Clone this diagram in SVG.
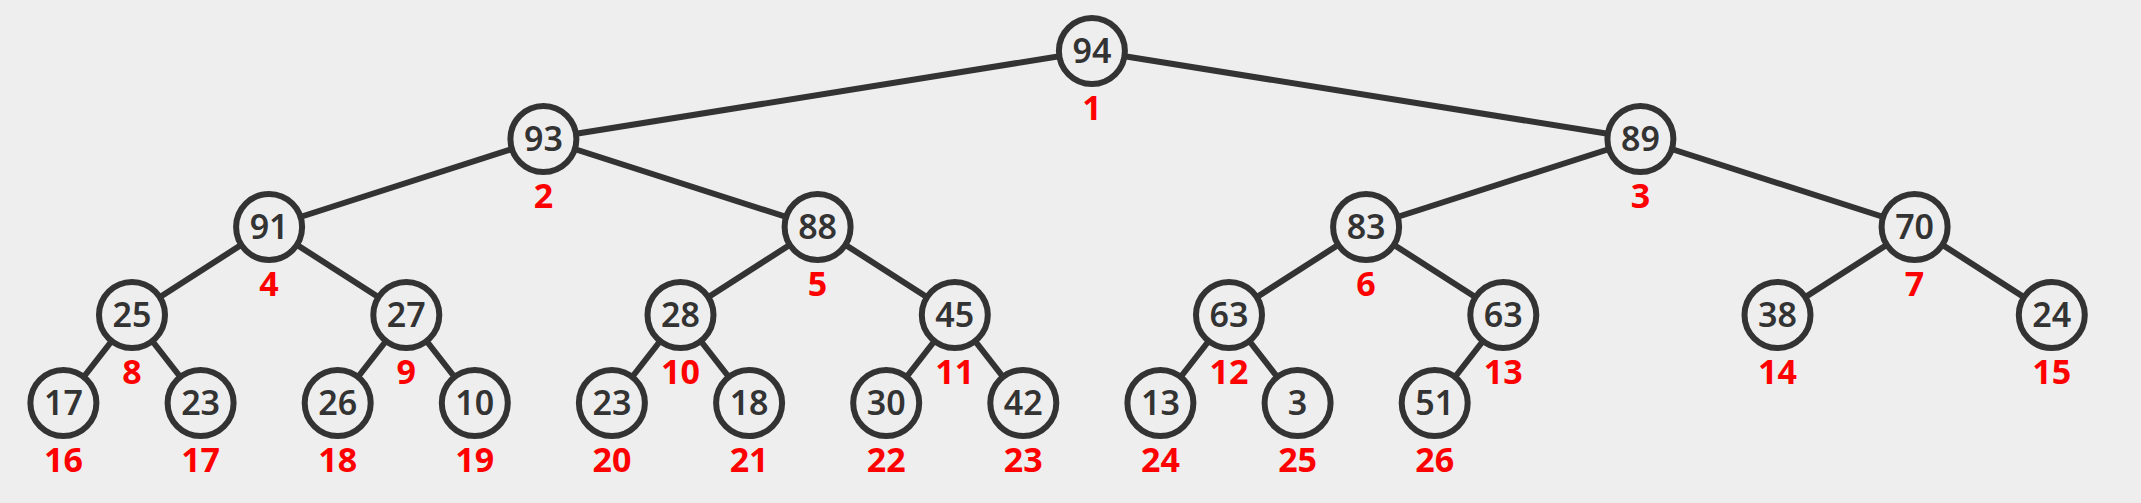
<svg xmlns="http://www.w3.org/2000/svg" width="2141" height="503" viewBox="0 0 2141 503">
<style>
.bg{fill:#eeeeee}
.edge{stroke:#333333;stroke-width:6;fill:none}
.node circle{fill:#eeeeee;stroke:#333333;stroke-width:6}
.val{font-family:"Noto Sans","DejaVu Sans",sans-serif;font-size:34px;font-weight:600;fill:#333333;text-anchor:middle}
.idx{font-family:"Noto Sans","DejaVu Sans",sans-serif;font-size:34px;font-weight:700;fill:#ff0000;text-anchor:middle}
</style>
<rect class="bg" x="0" y="0" width="2141" height="503"/>
<g id="connectors">
<line class="edge" x1="1091.9" y1="51" x2="543.4" y2="139"/>
<line class="edge" x1="1091.9" y1="51" x2="1640.4" y2="139"/>
<line class="edge" x1="543.4" y1="139" x2="269.1" y2="227"/>
<line class="edge" x1="543.4" y1="139" x2="817.6" y2="227"/>
<line class="edge" x1="1640.4" y1="139" x2="1366.1" y2="227"/>
<line class="edge" x1="1640.4" y1="139" x2="1914.6" y2="227"/>
<line class="edge" x1="269.1" y1="227" x2="132" y2="315"/>
<line class="edge" x1="269.1" y1="227" x2="406.3" y2="315"/>
<line class="edge" x1="817.6" y1="227" x2="680.5" y2="315"/>
<line class="edge" x1="817.6" y1="227" x2="954.8" y2="315"/>
<line class="edge" x1="1366.1" y1="227" x2="1229" y2="315"/>
<line class="edge" x1="1366.1" y1="227" x2="1503.3" y2="315"/>
<line class="edge" x1="1914.6" y1="227" x2="1777.5" y2="315"/>
<line class="edge" x1="1914.6" y1="227" x2="2051.8" y2="315"/>
<line class="edge" x1="132" y1="315" x2="63.4" y2="403"/>
<line class="edge" x1="132" y1="315" x2="200.6" y2="403"/>
<line class="edge" x1="406.3" y1="315" x2="337.7" y2="403"/>
<line class="edge" x1="406.3" y1="315" x2="474.8" y2="403"/>
<line class="edge" x1="680.5" y1="315" x2="611.9" y2="403"/>
<line class="edge" x1="680.5" y1="315" x2="749.1" y2="403"/>
<line class="edge" x1="954.8" y1="315" x2="886.2" y2="403"/>
<line class="edge" x1="954.8" y1="315" x2="1023.3" y2="403"/>
<line class="edge" x1="1229" y1="315" x2="1160.4" y2="403"/>
<line class="edge" x1="1229" y1="315" x2="1297.6" y2="403"/>
<line class="edge" x1="1503.3" y1="315" x2="1434.7" y2="403"/>
</g>
<g id="n1" class="node"><circle cx="1091.9" cy="51" r="33"/><text class="val" x="1091.9" y="63">94</text><text class="idx" x="1091.9" y="119.5">1</text></g>
<g id="n2" class="node"><circle cx="543.4" cy="139" r="33"/><text class="val" x="543.4" y="151">93</text><text class="idx" x="543.4" y="207.5">2</text></g>
<g id="n3" class="node"><circle cx="1640.4" cy="139" r="33"/><text class="val" x="1640.4" y="151">89</text><text class="idx" x="1640.4" y="207.5">3</text></g>
<g id="n4" class="node"><circle cx="269.1" cy="227" r="33"/><text class="val" x="269.1" y="239">91</text><text class="idx" x="269.1" y="295.5">4</text></g>
<g id="n5" class="node"><circle cx="817.6" cy="227" r="33"/><text class="val" x="817.6" y="239">88</text><text class="idx" x="817.6" y="295.5">5</text></g>
<g id="n6" class="node"><circle cx="1366.1" cy="227" r="33"/><text class="val" x="1366.1" y="239">83</text><text class="idx" x="1366.1" y="295.5">6</text></g>
<g id="n7" class="node"><circle cx="1914.6" cy="227" r="33"/><text class="val" x="1914.6" y="239">70</text><text class="idx" x="1914.6" y="295.5">7</text></g>
<g id="n8" class="node"><circle cx="132" cy="315" r="33"/><text class="val" x="132" y="327">25</text><text class="idx" x="132" y="383.5">8</text></g>
<g id="n9" class="node"><circle cx="406.3" cy="315" r="33"/><text class="val" x="406.3" y="327">27</text><text class="idx" x="406.3" y="383.5">9</text></g>
<g id="n10" class="node"><circle cx="680.5" cy="315" r="33"/><text class="val" x="680.5" y="327">28</text><text class="idx" x="680.5" y="383.5">10</text></g>
<g id="n11" class="node"><circle cx="954.8" cy="315" r="33"/><text class="val" x="954.8" y="327">45</text><text class="idx" x="954.8" y="383.5">11</text></g>
<g id="n12" class="node"><circle cx="1229" cy="315" r="33"/><text class="val" x="1229" y="327">63</text><text class="idx" x="1229" y="383.5">12</text></g>
<g id="n13" class="node"><circle cx="1503.3" cy="315" r="33"/><text class="val" x="1503.3" y="327">63</text><text class="idx" x="1503.3" y="383.5">13</text></g>
<g id="n14" class="node"><circle cx="1777.5" cy="315" r="33"/><text class="val" x="1777.5" y="327">38</text><text class="idx" x="1777.5" y="383.5">14</text></g>
<g id="n15" class="node"><circle cx="2051.8" cy="315" r="33"/><text class="val" x="2051.8" y="327">24</text><text class="idx" x="2051.8" y="383.5">15</text></g>
<g id="n16" class="node"><circle cx="63.4" cy="403" r="33"/><text class="val" x="63.4" y="415">17</text><text class="idx" x="63.4" y="471.5">16</text></g>
<g id="n17" class="node"><circle cx="200.6" cy="403" r="33"/><text class="val" x="200.6" y="415">23</text><text class="idx" x="200.6" y="471.5">17</text></g>
<g id="n18" class="node"><circle cx="337.7" cy="403" r="33"/><text class="val" x="337.7" y="415">26</text><text class="idx" x="337.7" y="471.5">18</text></g>
<g id="n19" class="node"><circle cx="474.8" cy="403" r="33"/><text class="val" x="474.8" y="415">10</text><text class="idx" x="474.8" y="471.5">19</text></g>
<g id="n20" class="node"><circle cx="611.9" cy="403" r="33"/><text class="val" x="611.9" y="415">23</text><text class="idx" x="611.9" y="471.5">20</text></g>
<g id="n21" class="node"><circle cx="749.1" cy="403" r="33"/><text class="val" x="749.1" y="415">18</text><text class="idx" x="749.1" y="471.5">21</text></g>
<g id="n22" class="node"><circle cx="886.2" cy="403" r="33"/><text class="val" x="886.2" y="415">30</text><text class="idx" x="886.2" y="471.5">22</text></g>
<g id="n23" class="node"><circle cx="1023.3" cy="403" r="33"/><text class="val" x="1023.3" y="415">42</text><text class="idx" x="1023.3" y="471.5">23</text></g>
<g id="n24" class="node"><circle cx="1160.4" cy="403" r="33"/><text class="val" x="1160.4" y="415">13</text><text class="idx" x="1160.4" y="471.5">24</text></g>
<g id="n25" class="node"><circle cx="1297.6" cy="403" r="33"/><text class="val" x="1297.6" y="415">3</text><text class="idx" x="1297.6" y="471.5">25</text></g>
<g id="n26" class="node"><circle cx="1434.7" cy="403" r="33"/><text class="val" x="1434.7" y="415">51</text><text class="idx" x="1434.7" y="471.5">26</text></g>
</svg>
